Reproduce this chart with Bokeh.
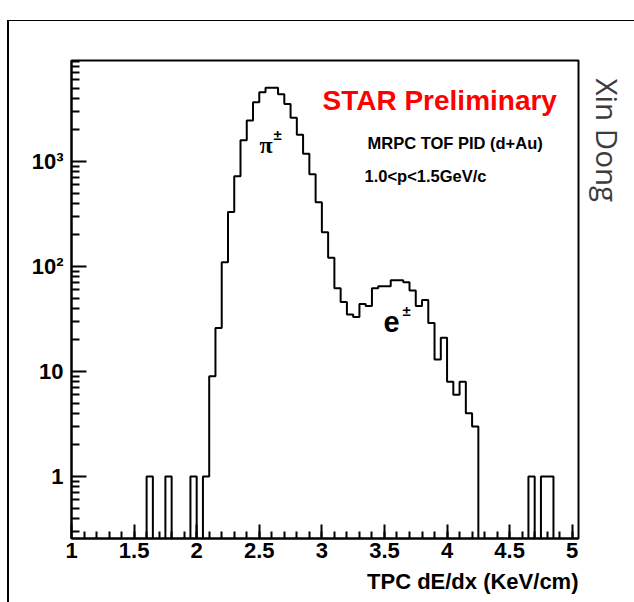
import numpy as np
from bokeh.plotting import figure
from bokeh.models import Range1d, FixedTicker, Label, Title, Spacer
from bokeh.layouts import column, row
from bokeh.embed import file_html
from bokeh.resources import INLINE

# ---------------- data ----------------
# left edges of the non-empty bins (bin width 0.05 KeV/cm) and their entries
bin_left = [1.60, 1.75, 1.95, 2.05,
            2.10, 2.15, 2.20, 2.25, 2.30, 2.35, 2.40, 2.45, 2.50, 2.55,
            2.60, 2.65, 2.70, 2.75, 2.80, 2.85, 2.90, 2.95, 3.00, 3.05,
            3.10, 3.15, 3.20, 3.25, 3.30, 3.35, 3.40, 3.45, 3.50, 3.55,
            3.60, 3.65, 3.70, 3.75, 3.80, 3.85, 3.90, 3.95, 4.00, 4.05,
            4.10, 4.15, 4.20,
            4.65, 4.75, 4.80]
counts = [1, 1, 1, 1,
          9, 26, 110, 330, 725, 1590, 2460, 3670, 4570, 5030,
          5030, 4380, 3520, 2610, 1800, 1184, 757, 410, 212, 121,
          62, 46, 35, 33, 44, 42, 62, 65, 65, 74,
          74, 71, 59, 42, 48, 29, 13, 21, 8, 6,
          8, 4, 3,
          1, 1, 1]
bin_width = 0.05
hist_lo, hist_hi = 1.0, 5.05

x_tick_values = [1.0, 1.5, 2.0, 2.5, 3.0, 3.5, 4.0, 4.5, 5.0]
x_tick_labels = ["1", "1.5", "2", "2.5", "3", "3.5", "4", "4.5", "5"]
y_tick_values = [1, 10, 100, 1000]
y_tick_labels = ["1", "10", "10\u00b2", "10\u00b3"]

# ---------------- build the full histogram ----------------
nb = int(round((hist_hi - hist_lo) / bin_width))
edges = hist_lo + bin_width * np.arange(nb + 1)
full = np.zeros(nb)
for xl, c in zip(bin_left, counts):
    full[int(round((xl - hist_lo) / bin_width))] = c
floor = 1e-3  # empty bins drop below the frame (log scale)
yy = np.where(full > 0, full, floor)
step_x = list(edges)
step_y = list(yy) + [yy[-1]]

ymin, ymax = 0.257, 9160

# page geometry: pad box line at x=7, y=20; frame at x 71..578, y 60..538
OX, OY = 9, 21
RB = 2                      # right border of the main figure
SIDE_W = 634 - 578 - RB     # side strip holding the author's name
p = figure(width=578 + RB - OX, height=602 - OY, x_range=Range1d(hist_lo, hist_hi),
           y_range=Range1d(ymin, ymax), y_axis_type="log",
           output_backend="svg", toolbar_location=None,
           min_border_left=71 - OX, min_border_right=RB,
           min_border_top=60 - OY, min_border_bottom=64)
p.background_fill_color = "white"
p.border_fill_color = "white"
p.xgrid.visible = False
p.ygrid.visible = False
p.outline_line_color = "black"
p.outline_line_width = 2
p.outline_line_alpha = 1

p.step(x=step_x, y=step_y, mode="after", line_color="black", line_width=2)

# axes
x_minor = [round(v, 2) for v in np.arange(1.1, 5.05, 0.1)]
p.xaxis.ticker = FixedTicker(ticks=x_tick_values, minor_ticks=x_minor)
p.xaxis.major_label_overrides = {v: l for v, l in zip(x_tick_values, x_tick_labels)}
y_minor = []
for dec in [0.1, 1, 10, 100, 1000]:
    for m in range(2, 10):
        y_minor.append(m * dec)
p.yaxis.ticker = FixedTicker(ticks=y_tick_values, minor_ticks=y_minor)
p.yaxis.major_label_overrides = {v: l for v, l in zip(y_tick_values, y_tick_labels)}

for ax in (p.xaxis[0], p.yaxis[0]):
    ax.axis_line_width = 2
    ax.axis_line_color = "black"
    ax.major_tick_line_width = 2
    ax.minor_tick_line_width = 2
    ax.major_tick_line_color = "black"
    ax.minor_tick_line_color = "black"
    ax.major_tick_out = 0
    ax.minor_tick_out = 0
    ax.major_label_text_font = "Liberation Sans"
    ax.major_label_text_font_style = "bold"
    ax.major_label_text_font_size = "22px"
    ax.major_label_text_color = "black"
p.xaxis.major_tick_in = 14
p.xaxis.minor_tick_in = 7
p.yaxis.major_tick_in = 15
p.yaxis.minor_tick_in = 8
p.xaxis.major_label_standoff = 4
p.yaxis.major_label_standoff = 8

# texts inside the frame: screen units relative to the frame's bottom-left
FL, FB = 71, 546
def lab(text, x, y, size, color="black", font="Liberation Sans", style="bold",
        align="left"):
    p.add_layout(Label(x=x - FL, y=FB - y, x_units="screen", y_units="screen",
                       text=text, text_font=font, text_font_style=style,
                       text_font_size=size, text_color=color,
                       text_align=align, text_baseline="alphabetic"))

lab("STAR Preliminary", 322, 108, "28px", color="#ff0000")
lab("MRPC TOF PID (d+Au)", 367, 150, "16.5px")
lab("1.0<p<1.5GeV/c", 364, 183, "16.5px")
lab("\u03c0", 259, 152, "24px", font="Liberation Serif")
lab("\u00b1", 273, 142, "15px")
lab("e", 383, 329, "29px")
lab("\u00b1", 402, 318, "15px")

# x-axis title (right aligned)
p.add_layout(Title(text="TPC dE/dx (KeV/cm)", align="right",
                   text_font="Liberation Sans", text_font_style="bold",
                   text_font_size="22px", text_color="black", standoff=13), "below")

# side strip with the author's name, written downwards
side = figure(width=SIDE_W, height=602 - OY, x_range=Range1d(0, 1), y_range=Range1d(0, 1),
              output_backend="svg", toolbar_location=None,
              x_axis_location=None, y_axis_location=None,
              min_border_left=0, min_border_right=0, min_border_top=0, min_border_bottom=0)
side.outline_line_color = None
side.xgrid.visible = False
side.ygrid.visible = False
side.background_fill_color = "white"
side.border_fill_color = "white"
side.add_layout(Label(x=27, y=460, x_units="screen", y_units="screen",
                      text="Xin Dong", text_font="Open Sans", text_font_style="normal",
                      text_font_size="29.5px", text_color="#3c3c3c",
                      text_align="left", text_baseline="alphabetic",
                      angle=-np.pi / 2))

bg = {"background-color": "black"}
layout = column(
    Spacer(width=634, height=20),
    row(Spacer(width=7, height=1), Spacer(width=627, height=1, styles=bg)),
    row(Spacer(width=7, height=602 - OY), Spacer(width=2, height=602 - OY, styles=bg), p, side),
)

open("out.html", "w").write(file_html(layout, INLINE))
